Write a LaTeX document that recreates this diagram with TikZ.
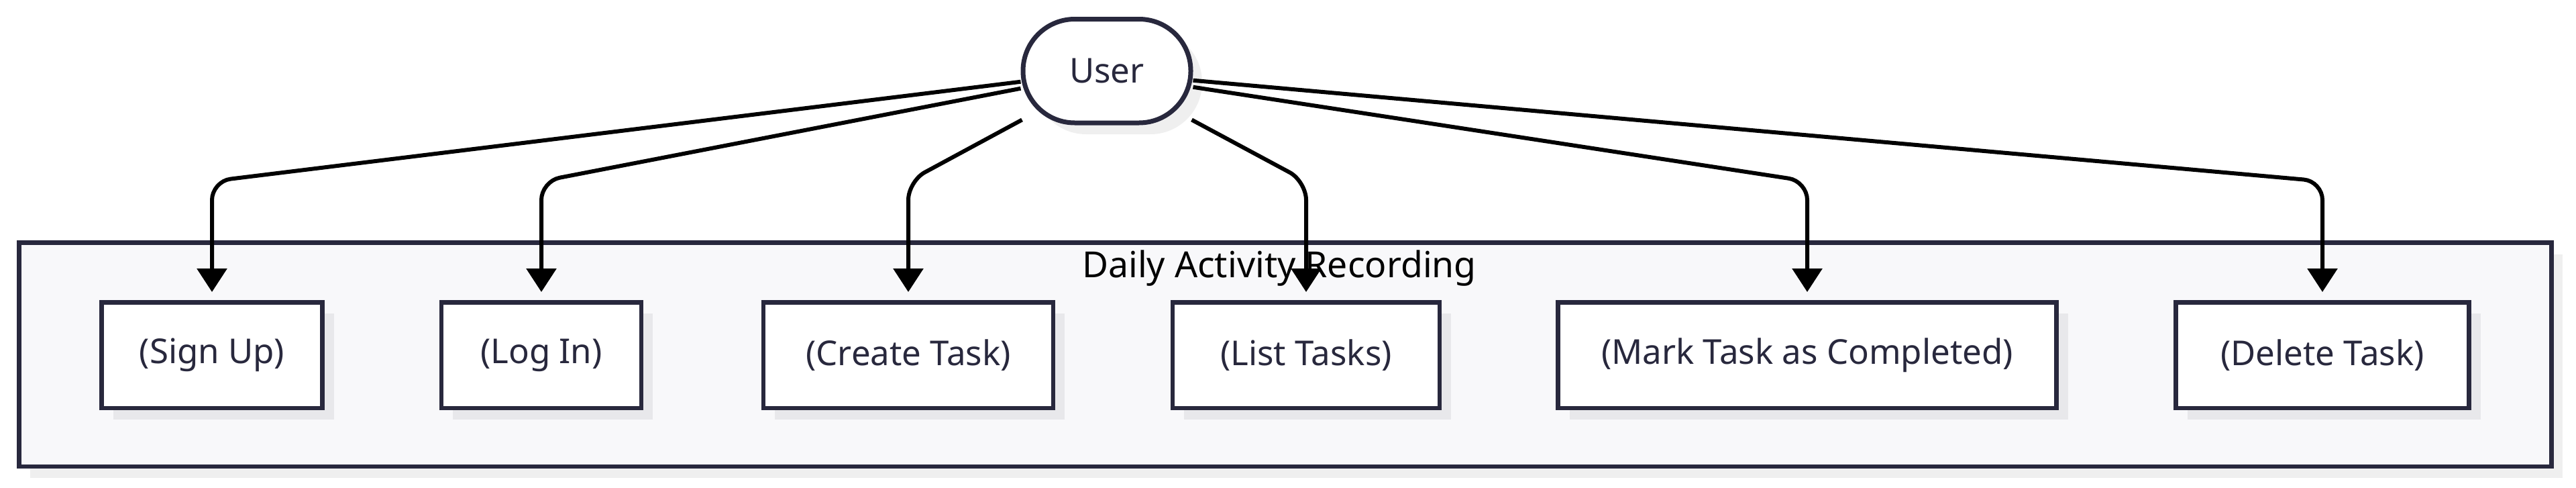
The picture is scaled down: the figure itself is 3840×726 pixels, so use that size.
\documentclass[tikz,border=0pt]{standalone}
\usepackage{fontspec}
\setmainfont{Noto Sans}
\usetikzlibrary{arrows.meta,calc,shadows}
\definecolor{ink}{HTML}{28283D}
\definecolor{clusterfill}{HTML}{F8F8FA}
\definecolor{outshadow}{HTML}{EFEFEF}
\definecolor{inshadow}{HTML}{E8E8EB}
\begin{document}
\begin{tikzpicture}[x=1pt,y=-1pt,
  txt/.style={font=\fontsize{51}{60}\selectfont, text=ink, inner sep=0pt},
  taskbox/.style={txt, draw=ink, line width=6.5pt, fill=white, minimum height=157.5pt,
    drop shadow={shadow xshift=17pt, shadow yshift=-17pt, fill=inshadow, opacity=1}},
  actor/.style={txt, draw=ink, line width=7pt, fill=white, rounded corners=77pt,
    minimum width=250pt, minimum height=154.5pt,
    drop shadow={shadow xshift=17pt, shadow yshift=-17pt, fill=outshadow, opacity=1}},
  group/.style={draw=ink, line width=6.7pt, fill=clusterfill, inner sep=0pt,
    minimum width=3775pt, minimum height=333.3pt,
    drop shadow={shadow xshift=17pt, shadow yshift=-17pt, fill=outshadow, opacity=1}},
  link/.style={draw=black, line width=6pt, rounded corners=28pt,
    -{Triangle[length=35pt,width=44pt]}}
]
\useasboundingbox (0,0) rectangle (3840,726);

\node[group] (cluster) at (1915.8,528.3) {};
\node[txt, font=\fontsize{53.5}{62}\selectfont, text=black, anchor=base] (title) at (1907,413) {Daily Activity Recording};

\node[actor] (user) at (1650,105.75) {User};

\node[taskbox, minimum width=329pt] (signup) at (316,529) {(Sign Up)};
\node[taskbox, minimum width=298pt] (login) at (807,529) {(Log In)};
\node[taskbox, minimum width=432pt] (create) at (1354,529) {(Create Task)};
\node[taskbox, minimum width=398pt] (list) at (1947,529) {(List Tasks)};
\node[taskbox, minimum width=743pt] (mark) at (2694,529) {(Mark Task as Completed)};
\node[taskbox, minimum width=437pt] (delete) at (3462,529) {(Delete Task)};

\coordinate (bend) at (0,270);

\draw[link] ($(user.west)+(0,16)$) -- (signup.north |- bend) -- ($(signup.north)+(0,-12)$);
\draw[link] ($(user.west)+(0,26)$) -- (login.north |- bend) -- ($(login.north)+(0,-12)$);
\draw[link] ($(user.south west)+(2,-8)$) -- (create.north |- bend) -- ($(create.north)+(0,-12)$);
\draw[link] ($(user.south east)+(-2,-8)$) -- (list.north |- bend) -- ($(list.north)+(0,-12)$);
\draw[link] ($(user.east)+(0,24)$) -- (mark.north |- bend) -- ($(mark.north)+(0,-12)$);
\draw[link] ($(user.east)+(0,14)$) -- (delete.north |- bend) -- ($(delete.north)+(0,-12)$);
\end{tikzpicture}
\end{document}
